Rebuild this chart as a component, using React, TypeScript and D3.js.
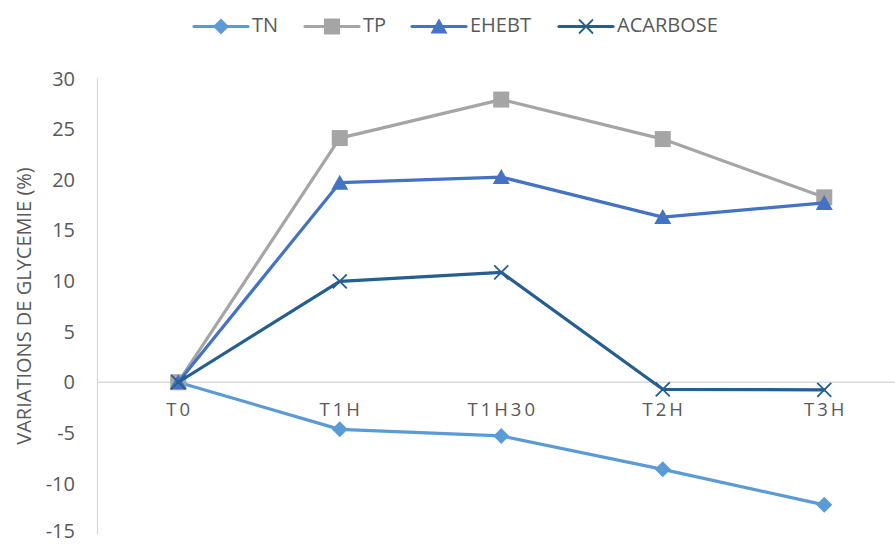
import React, { useRef, useEffect } from 'react';
import * as d3 from 'd3';

// données
const categories = ['T0', 'T1H', 'T1H30', 'T2H', 'T3H'];
const tnValues = [0, -4.65, -5.3, -8.6, -12.1];
const tpValues = [0, 24.1, 27.9, 24.0, 18.25];
const ehebtValues = [0, 19.7, 20.25, 16.3, 17.7];
const acarboseValues = [0, 9.96, 10.85, -0.7, -0.75];
const yTicks = [-15, -10, -5, 0, 5, 10, 15, 20, 25, 30];

interface Series {
  name: string;
  values: number[];
  color: string;
  marker: 'diamond' | 'square' | 'triangle' | 'cross';
}

const series: Series[] = [
  { name: 'TN', values: tnValues, color: '#5B9BD5', marker: 'diamond' },
  { name: 'TP', values: tpValues, color: '#A5A5A5', marker: 'square' },
  { name: 'EHEBT', values: ehebtValues, color: '#4472C4', marker: 'triangle' },
  { name: 'ACARBOSE', values: acarboseValues, color: '#255E91', marker: 'cross' },
];

const W = 895;
const H = 544;
const FONT = '"Open Sans", "Noto Sans", sans-serif';

function drawMarker(g: d3.Selection<SVGGElement, unknown, null, undefined>, s: Series, x: number, y: number) {
  if (s.marker === 'diamond') {
    g.append('path')
      .attr('d', `M${x},${y - 8}L${x + 8},${y}L${x},${y + 8}L${x - 8},${y}Z`)
      .attr('fill', s.color);
  } else if (s.marker === 'square') {
    g.append('rect')
      .attr('x', x - 8).attr('y', y - 8)
      .attr('width', 16).attr('height', 16)
      .attr('fill', s.color);
  } else if (s.marker === 'triangle') {
    g.append('path')
      .attr('d', `M${x},${y - 8}L${x + 8.5},${y + 7}L${x - 8.5},${y + 7}Z`)
      .attr('fill', s.color);
  } else {
    g.append('path')
      .attr('d', `M${x - 7},${y - 7}L${x + 7},${y + 7}M${x + 7},${y - 7}L${x - 7},${y + 7}`)
      .attr('stroke', s.color)
      .attr('stroke-width', 1.8)
      .attr('fill', 'none');
  }
}

const App: React.FC = () => {
  const svgRef = useRef<SVGSVGElement | null>(null);

  useEffect(() => {
    if (!svgRef.current) return;
    const svg = d3.select(svgRef.current);
    svg.selectAll('*').remove();

    const left = 97.5;
    const xScale = d3.scaleBand<string>()
      .domain(categories)
      .range([left, left + 807.5]);

    const yScale = d3.scaleLinear()
      .domain([-15, 30])
      .range([534.2, 78.3]);

    const xc = (c: string) => xScale(c)! + xScale.bandwidth() / 2;

    // axe vertical
    svg.append('line')
      .attr('x1', left).attr('x2', left)
      .attr('y1', yScale(30)).attr('y2', yScale(-15))
      .attr('stroke', '#D9D9D9')
      .attr('stroke-width', 1.3);

    // axe horizontal à zéro
    svg.append('line')
      .attr('x1', left).attr('x2', left + 807.5)
      .attr('y1', yScale(0)).attr('y2', yScale(0))
      .attr('stroke', '#D9D9D9')
      .attr('stroke-width', 1.3);

    // étiquettes Y (la dernière remonte un peu pour rester dans le cadre)
    svg.append('g')
      .selectAll('text')
      .data(yTicks)
      .enter().append('text')
      .attr('x', 75)
      .attr('y', d => Math.min(yScale(d), 530.5))
      .attr('dy', '0.36em')
      .attr('text-anchor', 'end')
      .attr('font-family', FONT)
      .attr('font-size', 20)
      .attr('fill', '#595959')
      .text(d => d);

    // étiquettes X
    svg.append('g')
      .selectAll('text')
      .data(categories)
      .enter().append('text')
      .attr('x', d => xc(d) + 1.5)
      .attr('y', yScale(0) + 33.5)
      .attr('text-anchor', 'middle')
      .attr('font-family', FONT)
      .attr('font-size', 18.5)
      .attr('letter-spacing', 3)
      .attr('fill', '#595959')
      .text(d => d);

    // titre de l'axe Y
    svg.append('text')
      .attr('transform', `translate(31, 306) rotate(-90)`)
      .attr('text-anchor', 'middle')
      .attr('font-family', FONT)
      .attr('font-size', 20)
      .attr('fill', '#595959')
      .text('VARIATIONS DE GLYCEMIE (%)');

    // séries
    const line = d3.line<number>()
      .x((_, i) => xc(categories[i]))
      .y(d => yScale(d));

    series.forEach(s => {
      const g = svg.append('g');
      g.append('path')
        .datum(s.values)
        .attr('d', line)
        .attr('fill', 'none')
        .attr('stroke', s.color)
        .attr('stroke-width', 3.2)
        .attr('stroke-linejoin', 'round')
        .attr('stroke-linecap', 'round');
      s.values.forEach((v, i) => drawMarker(g, s, xc(categories[i]), yScale(v)));
    });

    // légende
    const legendX = [194, 305, 412, 559];
    const legend = svg.append('g');
    series.forEach((s, i) => {
      const g = legend.append('g');
      const x0 = legendX[i];
      g.append('line')
        .attr('x1', x0).attr('x2', x0 + 54)
        .attr('y1', 26.5).attr('y2', 26.5)
        .attr('stroke', s.color)
        .attr('stroke-width', 3.2)
        .attr('stroke-linecap', 'round');
      drawMarker(g, s, x0 + 27, 26.5);
      g.append('text')
        .attr('x', x0 + 58)
        .attr('y', 25)
        .attr('dy', '0.36em')
        .attr('font-family', FONT)
        .attr('font-size', 20)
        .attr('fill', '#595959')
        .text(s.name);
    });
  }, []);

  return (
    <svg
      ref={svgRef}
      width={W}
      height={H}
      style={{ position: 'absolute', left: 0, top: 0, background: '#fff', display: 'block' }}
    />
  );
};

export default App;
